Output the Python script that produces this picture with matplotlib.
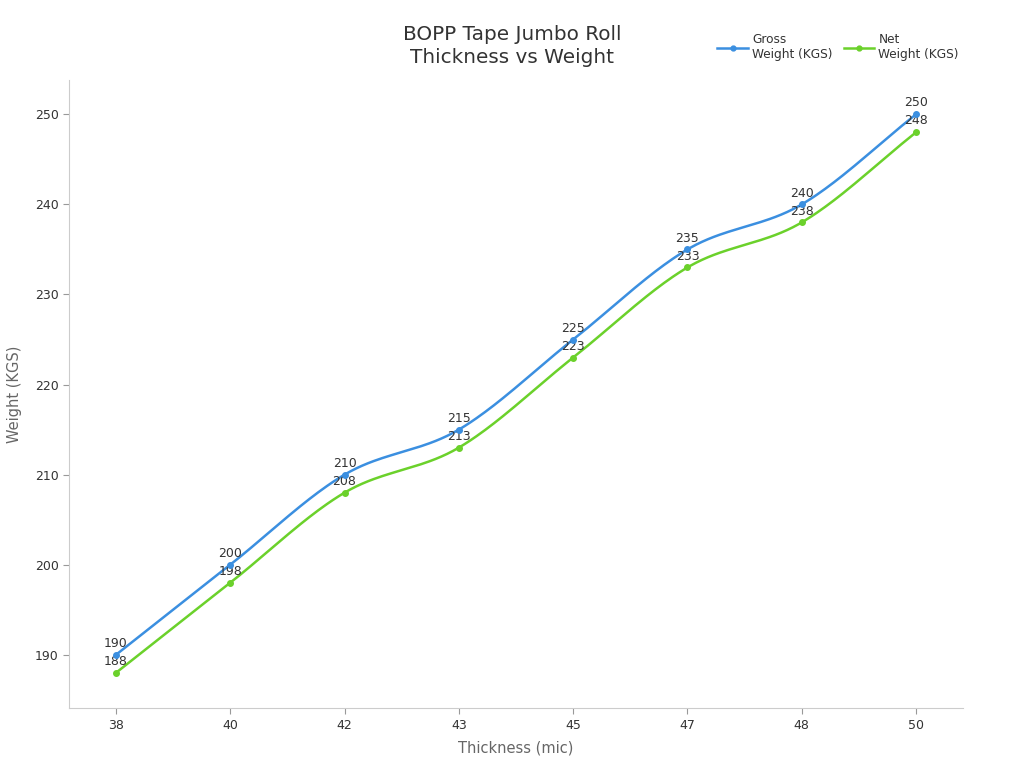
import numpy as np
import matplotlib
matplotlib.use("Agg")
import matplotlib.pyplot as plt

thickness = ["38", "40", "42", "43", "45", "47", "48", "50"]
gross = [190, 200, 210, 215, 225, 235, 240, 250]
net = [188, 198, 208, 213, 223, 233, 238, 248]

BLUE = "#3b8fe0"
GREEN = "#6bd12b"

def smooth(x, y, n=40):
    x = np.asarray(x, float); y = np.asarray(y, float)
    m = np.zeros_like(y)
    m[1:-1] = (y[2:] - y[:-2]) / (x[2:] - x[:-2])
    m[0] = (y[1] - y[0]) / (x[1] - x[0])
    m[-1] = (y[-1] - y[-2]) / (x[-1] - x[-2])
    xs, ys = [], []
    for i in range(len(x) - 1):
        h = x[i + 1] - x[i]
        t = np.linspace(0, 1, n)
        h00 = 2 * t**3 - 3 * t**2 + 1
        h10 = t**3 - 2 * t**2 + t
        h01 = -2 * t**3 + 3 * t**2
        h11 = t**3 - t**2
        xs.append(x[i] + t * h)
        ys.append(h00 * y[i] + h10 * h * m[i] + h01 * y[i + 1] + h11 * h * m[i + 1])
    return np.concatenate(xs), np.concatenate(ys)

fig = plt.figure(figsize=(10.24, 7.68), dpi=100)
ax = fig.add_axes([0.0674, 0.0781, 0.873, 0.8177])

xi = np.arange(len(thickness))
for vals, col, lab in [(gross, BLUE, "Gross\nWeight (KGS)"), (net, GREEN, "Net\nWeight (KGS)")]:
    sx, sy = smooth(xi, vals)
    ax.plot(sx, sy, color=col, lw=1.8, zorder=3)
    ax.plot(xi, vals, 'o', color=col, ms=4, zorder=4)
    ax.plot([], [], color=col, lw=1.8, marker='o', ms=3.5, label=lab)
    for x, v in zip(xi, vals):
        ax.annotate(str(v), (x, v), xytext=(0, 3.5), textcoords="offset points",
                    ha="center", va="bottom", fontsize=9, color="#333333")

ax.set_xticks(xi)
ax.set_xticklabels(thickness)
ax.set_yticks([190, 200, 210, 220, 230, 240, 250])
ax.set_xlim(-0.41, 7.41)
ax.set_ylim(184.1, 253.8)

for s in ["top", "right"]:
    ax.spines[s].set_visible(False)
for s in ["left", "bottom"]:
    ax.spines[s].set_color("#cccccc")
ax.tick_params(axis="both", colors="#999999", labelcolor="#333333", labelsize=9, length=4)
ax.tick_params(axis="x", pad=4)

ax.set_xlabel("Thickness (mic)", fontsize=10.5, color="#666666", labelpad=6)
ax.set_ylabel("Weight (KGS)", fontsize=10.5, color="#666666", labelpad=9)

fig.text(0.5, 0.940, "BOPP Tape Jumbo Roll\nThickness vs Weight", ha="center", va="center",
         fontsize=14.4, color="#333333", linespacing=1.3)

leg = fig.legend(loc="upper right", bbox_to_anchor=(0.947, 0.971), ncol=2, frameon=False,
                 fontsize=8.7, handlelength=2.5, columnspacing=0.95, handletextpad=0.35)
for t in leg.get_texts():
    t.set_color("#333333")

fig.savefig("out.png", dpi=100)
